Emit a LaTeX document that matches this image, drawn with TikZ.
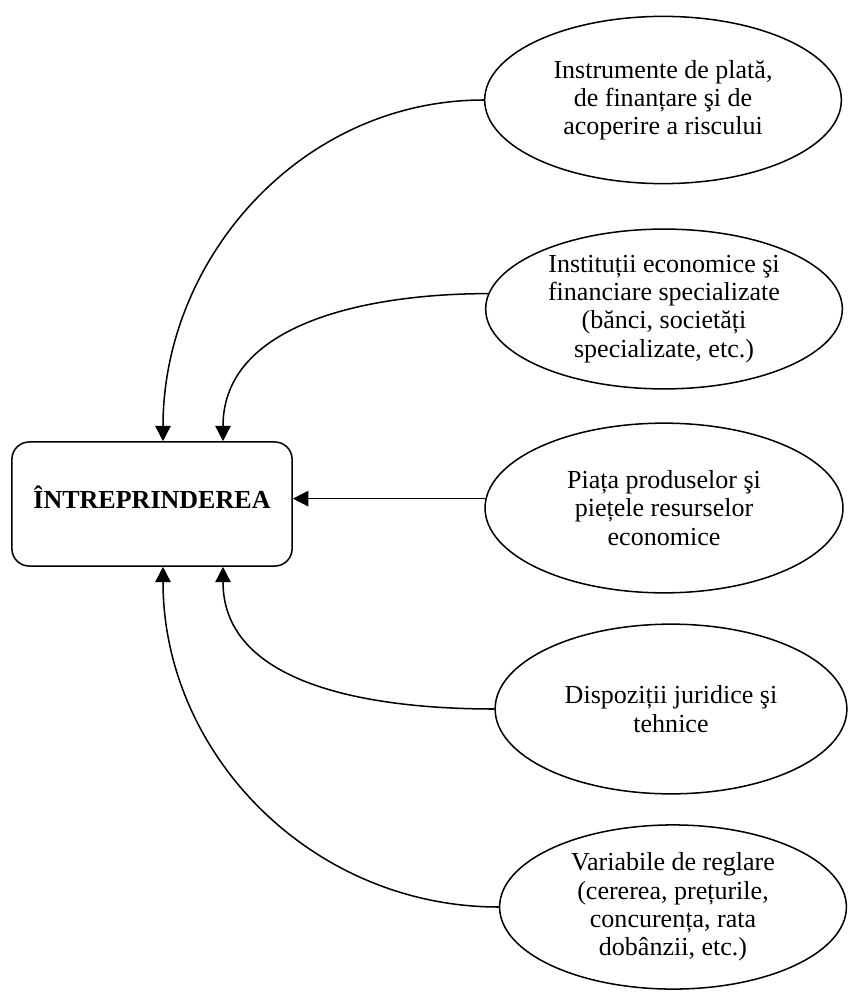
\documentclass[tikz,border=0pt]{standalone}
\usepackage{fontspec}
\setmainfont{Liberation Serif}
\usetikzlibrary{shapes.geometric,arrows.meta,calc}

\begin{document}
\begin{tikzpicture}[x=0.0162cm,y=-0.0162cm,
  every node/.style={font=\fontsize{12}{13}\selectfont},
  factor/.style={draw,ellipse,line width=0.7pt,inner sep=0pt,align=center},
  firm/.style={draw,rounded corners=0.28cm,line width=0.7pt,minimum width=4.54cm,minimum height=2.01cm,font=\fontsize{12}{13}\selectfont\bfseries},
  link/.style={line width=0.7pt,-{Triangle[length=0.25cm,width=0.25cm]}}]
\useasboundingbox (0,0) rectangle (847,992);
%
\node[firm,text depth=6.5pt] (firm) at (152,504) {ÎNTREPRINDEREA};
%
\node[factor,minimum width=5.78cm,minimum height=2.71cm] (instr) at (663,100)
  {Instrumente de plată,\\ de finanțare şi de\\ acoperire a riscului};
\node[factor,minimum width=5.78cm,minimum height=2.59cm] (inst) at (664,309)
  {Instituții economice şi\\ financiare specializate\\ (bănci, societăți\\ specializate, etc.)};
\node[factor,minimum width=5.80cm,minimum height=2.75cm] (piata) at (664,508)
  {Piața produselor şi\\ piețele resurselor\\ economice};
\node[factor,minimum width=5.70cm,minimum height=2.75cm] (disp) at (671,709)
  {Dispoziții juridice şi\\ tehnice};
\node[factor,minimum width=5.62cm,minimum height=2.66cm] (var) at (673,907)
  {Variabile de reglare\\ (cererea, prețurile,\\ concurența, rata\\ dobânzii, etc.)};
%
\draw[link] (instr.west) to[out=180,in=90] ($(firm.north)+(11,0)$);
\draw[link] (inst.175) to[out=180,in=90] ($(firm.north)+(71,0)$);
\draw[link] (piata.177) -- (piata.177 -| firm.east);
\draw[link] (disp.west) to[out=180,in=-90] ($(firm.south)+(71,0)$);
\draw[link] (var.west) to[out=180,in=-90] ($(firm.south)+(11,0)$);
\end{tikzpicture}
\end{document}
